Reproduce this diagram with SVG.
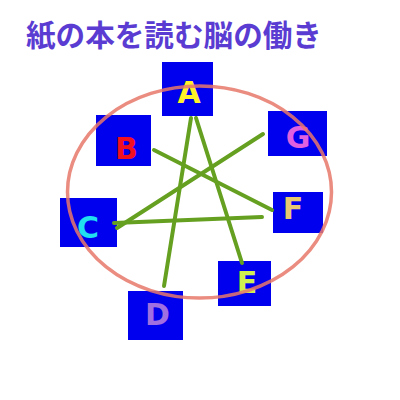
<svg xmlns="http://www.w3.org/2000/svg" width="400" height="400" viewBox="0 0 400 400">
<style>
.box{fill:#0000EE}
.lbl{font-family:"DejaVu Sans","Liberation Sans",sans-serif;font-weight:bold;font-size:30px;text-anchor:middle}
.ln{stroke:#66A020;stroke-width:4;stroke-linecap:round;fill:none}
.title{font-family:"Noto Sans CJK JP",sans-serif;font-weight:bold;font-size:29.6px;fill:#5A3CD2}
</style>
<rect width="400" height="400" fill="#FFFFFF"/>
<text class="title" x="26" y="46">紙の本を読む脳の働き</text>
<g id="node-A"><rect class="box" x="162" y="62" width="51" height="54"/><text class="lbl" x="189" y="103" fill="#FFF22A">A</text></g>
<g id="node-B"><rect class="box" x="96" y="115" width="55" height="51"/><text class="lbl" x="126.5" y="159" fill="#F01020">B</text></g>
<g id="node-G"><rect class="box" x="268" y="111" width="59" height="45"/><text class="lbl" x="298" y="148" fill="#E060E0">G</text></g>
<g id="node-F"><rect class="box" x="273" y="192" width="50" height="41"/><text class="lbl" x="293" y="219" fill="#E8C870">F</text></g>
<g id="node-C"><rect class="box" x="60" y="198" width="57" height="49"/><text class="lbl" x="88" y="238" fill="#20E0F0">C</text></g>
<g id="node-D"><rect class="box" x="128" y="291" width="55" height="49"/><text class="lbl" x="157.5" y="325" fill="#A070E0">D</text></g>
<g id="node-E"><rect class="box" x="218" y="261" width="53" height="45"/><text class="lbl" x="247" y="293" fill="#D0F050">E</text></g>
<g id="connectors">
<line class="ln" x1="191" y1="118" x2="164" y2="286"/>
<line class="ln" x1="196" y1="118" x2="242" y2="263"/>
<line class="ln" x1="154" y1="150" x2="272" y2="210"/>
<line class="ln" x1="263" y1="134" x2="117" y2="228"/>
<line class="ln" x1="114" y1="223" x2="262" y2="217"/>
</g>
<ellipse id="ring" cx="199.5" cy="192" rx="132" ry="106" fill="none" stroke="#E8786A" stroke-width="3.5" stroke-opacity="0.85"/>
</svg>
